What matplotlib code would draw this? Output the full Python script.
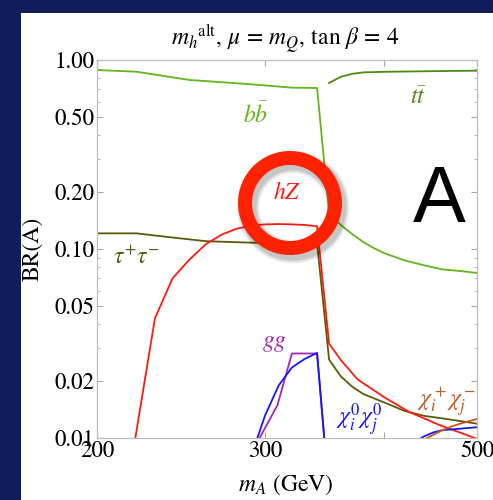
import numpy as np
import matplotlib
matplotlib.use("Agg")
import matplotlib.pyplot as plt
from matplotlib.patches import Rectangle, Ellipse
from matplotlib.ticker import FixedLocator, NullFormatter, FixedFormatter

plt.rcParams["font.family"] = ["STIXGeneral", "Liberation Serif", "DejaVu Serif"]
plt.rcParams["mathtext.fontset"] = "stix"

# ── branching ratios of A vs m_A (GeV) ───────────────────────────────
mA_bb = [200, 220, 250, 290, 320, 340, 350, 360, 370, 380, 390, 400, 420, 440, 460, 480, 500]
br_bb = [0.885, 0.867, 0.784, 0.744, 0.714, 0.711, 0.155, 0.134, 0.120, 0.109,
         0.101, 0.095, 0.087, 0.082, 0.078, 0.0765, 0.0747]

mA_tt = [350, 360, 370, 380, 400, 450, 500]
br_tt = [0.756, 0.815, 0.845, 0.860, 0.866, 0.873, 0.878]

mA_tau = [200, 220, 240, 260, 290, 320, 340, 350, 360, 370, 380, 400, 420, 440, 460, 480, 500]
br_tau = [0.121, 0.121, 0.115, 0.110, 0.108, 0.107, 0.107, 0.026, 0.0212, 0.0187,
          0.0171, 0.0154, 0.0139, 0.0131, 0.0127, 0.0123, 0.0119]

mA_hZ = [219, 230, 240, 250, 260, 270, 280, 290, 300, 310, 320, 330, 340,
         350, 360, 375, 400, 425, 457, 500]
br_hZ = [0.0095, 0.043, 0.070, 0.088, 0.106, 0.119, 0.128, 0.133, 0.135, 0.1355,
         0.135, 0.134, 0.132, 0.0316, 0.0259, 0.0204, 0.0164, 0.0137, 0.0117, 0.0099]

mA_gg = [296, 309, 320, 330, 340, 350]
br_gg = [0.0100, 0.0149, 0.028, 0.028, 0.028, 0.005]

mA_chi0 = [290, 300, 310, 320, 330, 340, 350, np.nan, 430, 440, 450, 460, 480, 500]
br_chi0 = [0.008, 0.0132, 0.0190, 0.0236, 0.0262, 0.0282, 0.005, np.nan,
           0.0095, 0.0102, 0.0107, 0.0110, 0.0112, 0.0114]

mA_chipm = [440, 450, 460, 470, 480, 500]
br_chipm = [0.0098, 0.0104, 0.0110, 0.0115, 0.0119, 0.0126]

y_ticks = [0.01, 0.02, 0.05, 0.10, 0.20, 0.50, 1.00]
y_minor = [0.03, 0.04, 0.06, 0.07, 0.08, 0.09, 0.3, 0.4, 0.6, 0.7, 0.8, 0.9]
x_ticks = [200, 300, 400, 500]
x_labels = ["200", "300", "", "500"]

W, H = 493, 500
fig = plt.figure(figsize=(W / 100, H / 100), dpi=100, facecolor="#101c5c")
fig.add_artist(Rectangle((21 / W, 0), 1, 487 / H, transform=fig.transFigure,
                         facecolor="white", edgecolor="none", zorder=0))

ax = fig.add_axes([97 / W, 62 / H, 380 / W, 378 / H])
ax.set_xscale("log")
ax.set_yscale("log")
ax.set_xlim(200, 500)
ax.set_ylim(0.01, 1.0)

lw = 1.3
ax.plot(mA_bb, br_bb, color="#62b51c", lw=lw)
ax.plot(mA_tt, br_tt, color="#4c8a12", lw=lw)
ax.plot(mA_tau, br_tau, color="#5a5a08", lw=lw)
ax.plot(mA_hZ, br_hZ, color="#ff1a10", lw=lw)
ax.plot(mA_gg, br_gg, color="#a826b4", lw=lw)
ax.plot(mA_chi0, br_chi0, color="#1515ff", lw=lw)
ax.plot(mA_chipm, br_chipm, color="#c8561c", lw=lw)

# curve labels
fs = 17
ax.text(293, 0.51, r"$b\bar{b}$", color="#62b51c", fontsize=fs, ha="center", va="center")
ax.text(434, 0.63, r"$t\bar{t}$", color="#4c8a12", fontsize=fs, ha="center", va="center")
ax.text(220, 0.090, r"$\tau^{+}\tau^{-}$", color="#5a5a08", fontsize=fs, ha="center", va="center")
ax.text(316, 0.198, r"$hZ$", color="#ff1a10", fontsize=fs, ha="center", va="center")
ax.text(307, 0.0318, r"$gg$", color="#a826b4", fontsize=fs, ha="center", va="center")
ax.text(376, 0.0125, r"$\chi_i^0\chi_j^0$", color="#1515ff", fontsize=fs, ha="center", va="center")
ax.text(465, 0.0155, r"$\chi_i^+\chi_j^-$", color="#c8561c", fontsize=fs, ha="center", va="center")

# axes styling
for sp in ax.spines.values():
    sp.set_color("#bdbdbd")
    sp.set_linewidth(0.9)
ax.xaxis.set_major_locator(FixedLocator(x_ticks))
ax.xaxis.set_major_formatter(FixedFormatter(x_labels))
ax.xaxis.set_minor_locator(FixedLocator([]))
ax.xaxis.set_minor_formatter(NullFormatter())
ax.yaxis.set_major_locator(FixedLocator(y_ticks))
ax.yaxis.set_major_formatter(FixedFormatter([f"{v:.2f}" for v in y_ticks]))
ax.yaxis.set_minor_locator(FixedLocator(y_minor))
ax.yaxis.set_minor_formatter(NullFormatter())
ax.tick_params(which="both", direction="in", top=True, right=True,
               color="#a8a8a8", labelsize=16.5, labelcolor="black")
ax.tick_params(which="major", length=4.5, width=0.8)
ax.tick_params(which="minor", length=2.5, width=0.6)
ax.tick_params(axis="y", pad=2)
ax.tick_params(axis="x", pad=2)

fig.text(285 / W, 1 - 39 / H, r"$m_h{}^{\rm alt},\, \mu\, =\, m_Q,\, \tan\,\beta\, =\, 4$",
         fontsize=17, ha="center", va="center")
fig.text(33 / W, 1 - 249 / H, "BR(A)", fontsize=17, rotation=90, ha="center", va="center")
fig.text(286 / W, 1 - 485 / H, r"$m_A$ (GeV)", fontsize=17, ha="center", va="center")

# highlight ring with a soft shadow
cx, cy, r = 290, 203, 45
for k, a in [(9, 0.06), (6, 0.08), (3, 0.10)]:
    fig.add_artist(Ellipse(((cx + 3) / W, 1 - (cy + 4) / H), 2 * r / W, 2 * r / H,
                           transform=fig.transFigure, fill=False,
                           edgecolor="black", alpha=a, lw=(14 + k) * 0.72, zorder=5))
fig.add_artist(Ellipse((cx / W, 1 - cy / H), 2 * r / W, 2 * r / H,
                       transform=fig.transFigure, fill=False,
                       edgecolor="#ff2200", lw=14 * 0.72, zorder=6))

fig.text(439 / W, 1 - 201 / H, "A", fontsize=57, family="Liberation Sans",
         ha="center", va="center", zorder=6)

fig.savefig("out.png", dpi=100, facecolor=fig.get_facecolor())
